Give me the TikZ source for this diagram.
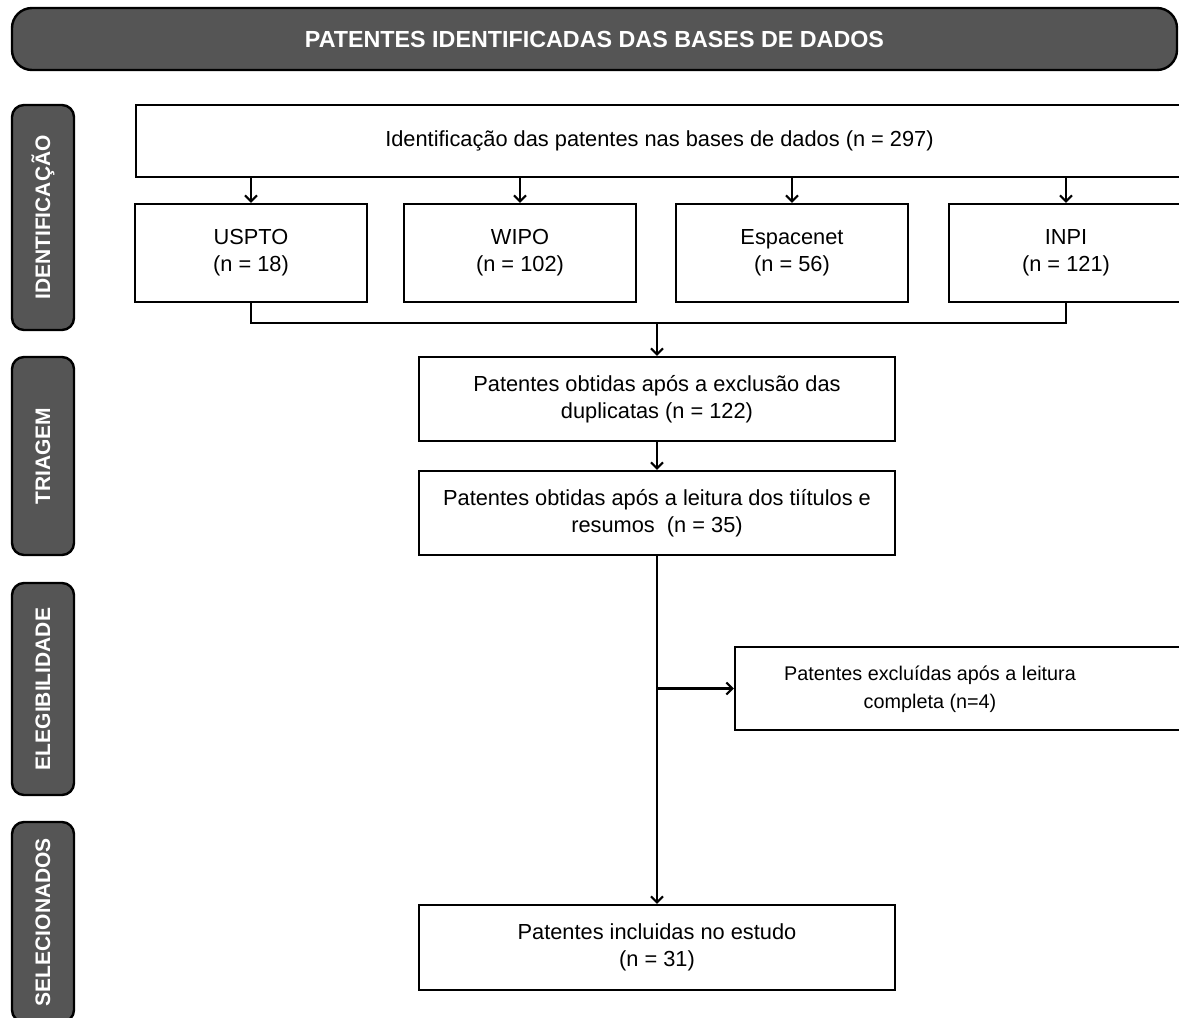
\documentclass[tikz,border=0pt]{standalone}
\usepackage{fontspec}
\setmainfont{Liberation Sans}
\usetikzlibrary{arrows.meta}
\definecolor{phasegray}{HTML}{555555}
\begin{document}
\begin{tikzpicture}[x=1pt,y=-1pt,
  box/.style={draw=black, line width=2.4pt, fill=white, align=center, inner sep=0pt,
    font=\fontsize{21.8}{27}\selectfont},
  plainbox/.style={draw=black, line width=2.4pt, fill=white, inner sep=0pt,
    font=\fontsize{19.8}{28}\selectfont},
  phase/.style={draw=black, line width=2.4pt, fill=phasegray, rounded corners=12pt,
    text=white, font=\fontsize{21}{25}\selectfont\bfseries, inner sep=0pt, rotate=90},
  banner/.style={draw=black, line width=2.4pt, fill=phasegray, rounded corners=20pt,
    text=white, font=\fontsize{23.3}{28}\selectfont\bfseries, inner sep=0pt},
  conn/.style={line width=2.2pt},
  arr/.style={conn, -{Straight Barb[length=6pt,width=12pt,line width=2pt]}}
]
\useasboundingbox (0,0) rectangle (1179,1018);

% banner
\node[banner, minimum width=1165pt, minimum height=62pt] (ban) at (594.5,39)
  {PATENTES IDENTIFICADAS DAS BASES DE DADOS};

% phase labels
\node[phase, minimum width=225pt, minimum height=62pt] (idf) at (43,217.5) {IDENTIFICAÇÃO};
\node[phase, minimum width=198pt, minimum height=62pt] (tri) at (43,456) {TRIAGEM};
\node[phase, minimum width=212pt, minimum height=62pt] (ele) at (43,689) {ELEGIBILIDADE};
\node[phase, minimum width=200pt, minimum height=62pt] (sel) at (43,922) {SELECIONADOS};

% boxes
\node[box, minimum width=1047pt, minimum height=72pt] (main) at (659.5,141)
  {Identificação das patentes nas bases de dados (n = 297)};
\node[box, minimum width=232pt, minimum height=98pt] (uspto) at (251,253) {USPTO\\(n = 18)};
\node[box, minimum width=232pt, minimum height=98pt] (wipo) at (520,253) {WIPO\\(n = 102)};
\node[box, minimum width=232pt, minimum height=98pt] (espa) at (792,253) {Espacenet\\(n = 56)};
\node[box, minimum width=234pt, minimum height=98pt] (inpi) at (1066,253) {INPI\\(n = 121)};

\node[box, minimum width=476pt, minimum height=84pt] (dup) at (657,399)
  {Patentes obtidas após a exclusão das\\duplicatas (n = 122)};
\node[box, minimum width=476pt, minimum height=84pt] (tit) at (657,513)
  {Patentes obtidas após a leitura dos tiítulos e\\resumos\ \ (n = 35)};
\node[plainbox, minimum width=455pt, minimum height=83pt] (excl) at (962.5,688.5)
  {\kern-65pt\begin{tabular}{@{}c@{}}Patentes excluídas após a leitura\\completa (n=4)\end{tabular}};
\node[box, minimum width=476pt, minimum height=85pt] (incl) at (657,947.5)
  {Patentes incluidas no estudo\\(n = 31)};

% connectors
\foreach \n in {uspto,wipo,espa,inpi}
  \draw[arr] (main.south -| \n.north) -- (\n.north);
\coordinate (jn) at (657,323);
\draw[conn] (uspto.south) |- (jn);
\draw[conn] (inpi.south) |- (jn);
\draw[arr] (jn) -- (dup.north);
\draw[arr] (dup) -- (tit);
\draw[arr] (tit) -- (incl);
\coordinate (br) at (tit.south |- excl.west);
\draw[arr] (br) -- (excl.west);
\end{tikzpicture}
\end{document}
